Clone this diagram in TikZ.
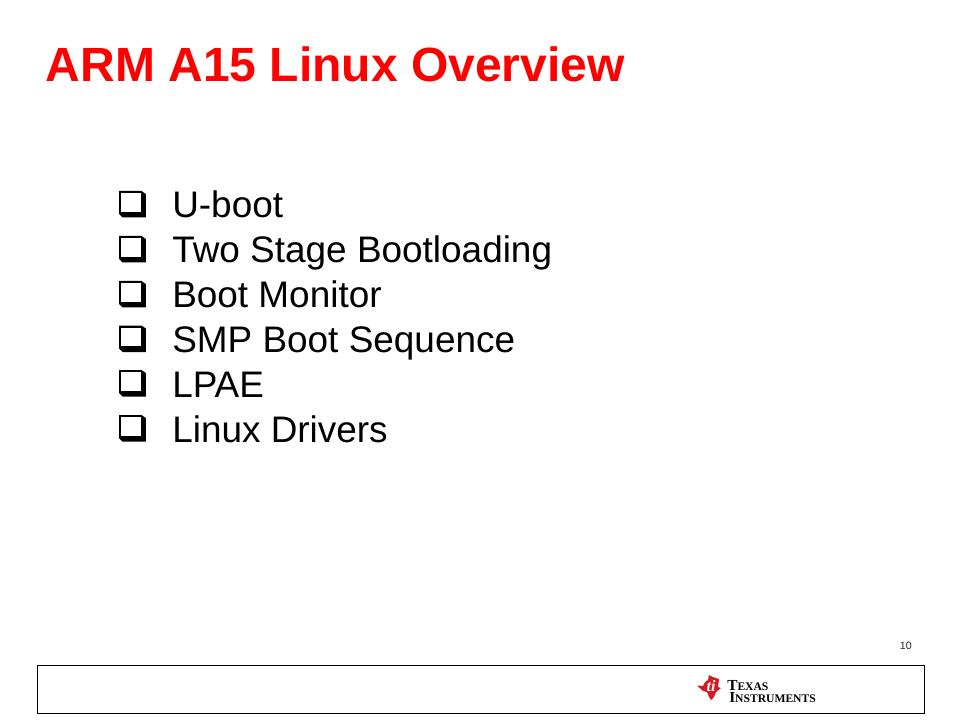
\documentclass[tikz,border=0pt]{standalone}
\usepackage{fontspec}
\setmainfont{Liberation Sans}
\newfontfamily\logofont{Liberation Serif}
\definecolor{tired}{RGB}{255,0,0}
\definecolor{logored}{RGB}{214,26,34}
\tikzset{
  titletext/.style={anchor=base west,inner sep=0pt,text=tired,font=\fontsize{36}{40}\selectfont\bfseries},
  itemtext/.style={anchor=base west,inner sep=0pt,font=\fontsize{27.7}{30}\selectfont},
  smalltext/.style={anchor=base east,inner sep=0pt,font=\fontsize{8}{10}\selectfont,text=black!85},
  boxframe/.style={draw=black,line width=0.75pt,fill=white},
}
\newcommand{\checkbox}[1]{%
  \fill[black] (119,#1) -- (141.5,#1) -- (145.8,#1+3) -- (145.8,#1+26.5) -- (122.5,#1+26.5) -- (119,#1+23) -- cycle;
  \fill[white] (121,#1+2) rectangle (140.5,#1+20.8);
}
\begin{document}
\begin{tikzpicture}[x=0.75pt,y=-0.75pt]
\useasboundingbox (0,0) rectangle (960,720);
\fill[white] (0,0) rectangle (960,720);
\node[titletext] (title) at (45.5,82) {ARM A15 Linux Overview};
\checkbox{191}
\node[itemtext] (i1) at (172,218) {U-boot};
\checkbox{236}
\node[itemtext] (i2) at (172,263) {Two Stage Bootloading};
\checkbox{281}
\node[itemtext] (i3) at (172,307.5) {Boot Monitor};
\checkbox{325.5}
\node[itemtext] (i4) at (172,352.5) {SMP Boot Sequence};
\checkbox{370}
\node[itemtext] (i5) at (172,397) {LPAE};
\checkbox{415}
\node[itemtext] (i6) at (172,442) {Linux Drivers};
\node[smalltext] (pg) at (912,649) {10};
\draw[boxframe] (37,665.5) rectangle (924.5,713);
\fill[logored] (697,685.5) -- (703,686) -- (705,682) -- (708,680) -- (709,675) -- (713,677) -- (719,679) -- (718,687) -- (721,688) -- (716,692) -- (714,697) -- (711,700) -- (709,697) -- (707,692) -- (703,691) -- cycle;
\node[anchor=center,inner sep=0pt,text=white,font=\logofont\bfseries\itshape\fontsize{12}{12}\selectfont] (tilogo) at (711,686) {ti};
\node[anchor=base west,inner sep=0pt,align=left,font=\logofont\bfseries\fontsize{11.5}{9}\selectfont] (tiname) at (727,702) {T{\fontsize{8.7}{9}\selectfont EXAS}\\[0pt]\hspace{1.5pt}I{\fontsize{8.7}{9}\selectfont NSTRUMENTS}};
\end{tikzpicture}
\end{document}
